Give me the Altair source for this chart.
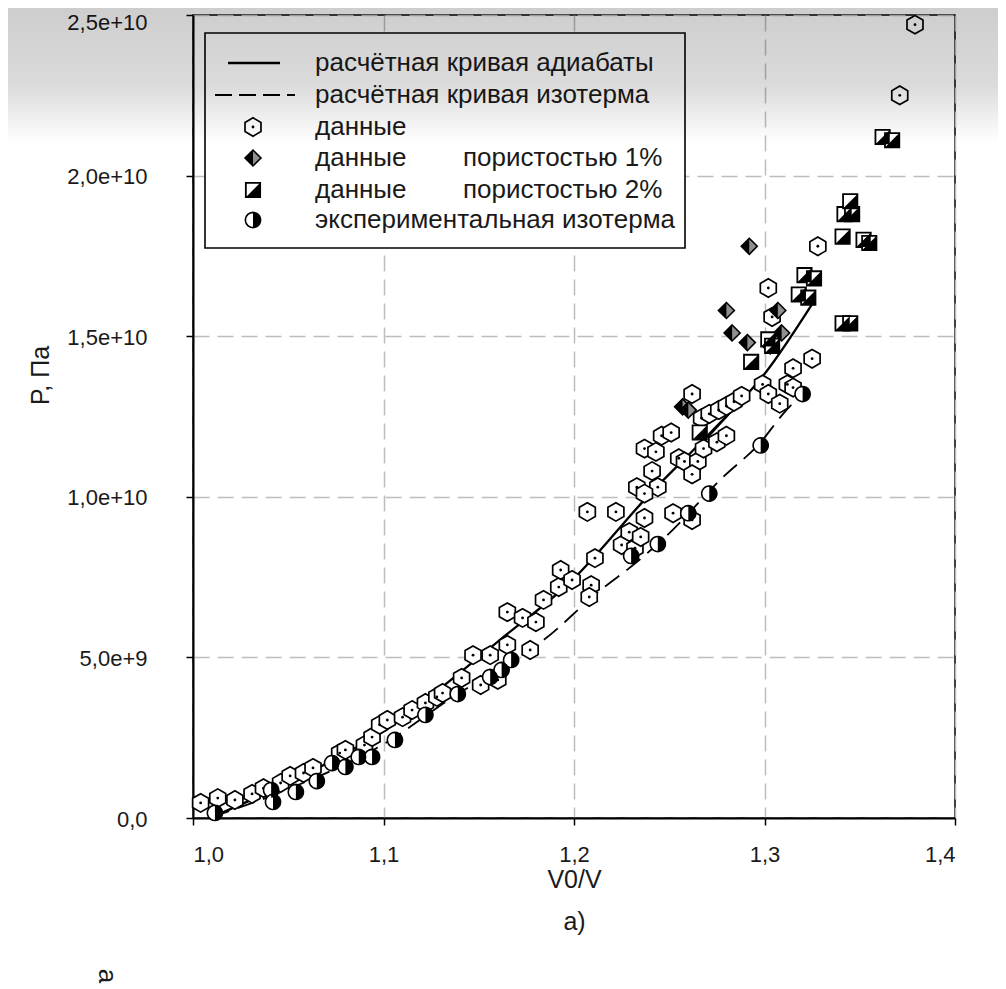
import math
import altair as alt
import pandas as pd

# ---------------- data (V0/V, P in units of 1e9 Pa) ----------------
hex_v = [1.004, 1.013, 1.022, 1.031, 1.037, 1.046, 1.051, 1.058, 1.063, 1.077,
         1.080, 1.090, 1.094, 1.098, 1.102, 1.110, 1.115, 1.122, 1.128, 1.131,
         1.141, 1.151, 1.160, 1.147, 1.156, 1.165, 1.165, 1.173, 1.180, 1.177,
         1.184, 1.192, 1.193, 1.199, 1.207, 1.222, 1.209, 1.208, 1.211, 1.225,
         1.232, 1.229, 1.235, 1.237, 1.233, 1.244, 1.237, 1.241, 1.237, 1.243,
         1.246, 1.251, 1.252, 1.262, 1.255, 1.258, 1.265, 1.262, 1.268, 1.275,
         1.280, 1.262, 1.267, 1.271, 1.276, 1.280, 1.284, 1.288, 1.299, 1.302,
         1.308, 1.312, 1.315, 1.315, 1.325, 1.302, 1.304, 1.328, 1.371, 1.379]
hex_p = [0.47, 0.62, 0.56, 0.75, 0.93, 1.09, 1.31, 1.40, 1.56, 2.02,
         2.12, 2.27, 2.52, 2.90, 3.05, 3.14, 3.36, 3.58, 3.77, 3.89,
         4.36, 4.14, 4.30, 5.07, 5.07, 5.39, 6.41, 6.23, 6.10, 5.23,
         6.79, 7.19, 7.72, 7.41, 9.53, 9.53, 7.25, 6.88, 8.09, 8.50,
         8.40, 8.90, 8.75, 9.34, 10.3, 10.3, 10.1, 10.8, 11.5, 11.4,
         11.9, 12.0, 9.49, 9.28, 11.2, 11.1, 11.1, 10.7, 11.5, 11.7,
         11.9, 13.2, 12.45, 12.58, 12.70, 12.83, 12.96, 13.14, 13.5, 13.2,
         12.9, 13.5, 13.4, 14.0, 14.3, 16.5, 15.6, 17.8, 22.5, 24.7]

por1_v = [1.292, 1.280, 1.283, 1.291, 1.307, 1.309, 1.303, 1.257, 1.260]
por1_p = [17.8, 15.8, 15.1, 14.8, 15.8, 15.1, 14.7, 12.8, 12.7]

por2_v = [1.266, 1.293, 1.302, 1.304, 1.318, 1.323, 1.321, 1.326, 1.341,
          1.345, 1.341, 1.352, 1.355, 1.342, 1.346, 1.345, 1.362, 1.367]
por2_p = [12.0, 14.2, 14.9, 14.7, 16.3, 16.2, 16.9, 16.8, 15.4,
          15.4, 18.1, 18.0, 17.9, 18.8, 18.8, 19.2, 21.2, 21.1]

iso_exp_v = [1.0115, 1.041, 1.042, 1.054, 1.065, 1.073, 1.080, 1.087, 1.094,
             1.106, 1.122, 1.139, 1.156, 1.162, 1.167, 1.230, 1.244, 1.260,
             1.271, 1.298, 1.320]
iso_exp_p = [0.16, 0.87, 0.50, 0.81, 1.15, 1.71, 1.59, 1.90, 1.90,
             2.43, 3.21, 3.86, 4.39, 4.61, 4.92, 8.16, 8.53, 9.49,
             10.1, 11.6, 13.2]

adiab_v = [1.010, 1.030, 1.050, 1.075, 1.100, 1.122, 1.161, 1.199, 1.240, 1.270, 1.301, 1.325]
adiab_p = [0.03, 0.55, 1.10, 1.85, 2.70, 3.67, 5.54, 7.40, 10.1, 11.9, 13.9, 16.0]
branch_v = [1.270, 1.287]
branch_p = [11.85, 12.95]

iso_v = [1.010, 1.050, 1.100, 1.140, 1.160, 1.184, 1.214, 1.229, 1.248, 1.278, 1.298, 1.310, 1.319]
iso_p = [0.03, 0.90, 2.30, 3.90, 4.60, 5.54, 7.10, 7.78, 8.75, 10.6, 11.7, 12.6, 13.15]

x_ticks = [1.0, 1.1, 1.2, 1.3, 1.4]
y_ticks = [0, 5e9, 1e10, 1.5e10, 2e10, 2.5e10]

legend_labels = ["расчётная кривая адиабаты", "расчётная кривая изотерма", "данные",
                 "данные", "данные", "экспериментальная изотерма"]
legend_extra = ["пористостью 1%", "пористостью 2%"]

# ---------------- frames ----------------
def frame(v, p, **extra):
    d = pd.DataFrame({"v": v, "P": [x * 1e9 for x in p]})
    for k, val in extra.items():
        d[k] = val
    return d

df_hex = frame(hex_v, hex_p)
df_p1 = frame(por1_v, por1_p)
df_p2 = frame(por2_v, por2_p)
df_ce = frame(iso_exp_v, iso_exp_p)
df_ad = pd.concat([frame(adiab_v, adiab_p, seg="main"), frame(branch_v, branch_p, seg="branch")])
df_iso = frame(iso_v, iso_p)
one = pd.DataFrame({"a": [0]})

FONT = "Liberation Sans"
TXT = "#1a1a1a"

X = alt.X("v:Q", scale=alt.Scale(domain=[1.0, 1.4], nice=False, zero=False),
          axis=alt.Axis(values=x_ticks,
                        labelExpr="replace(format(datum.value, '.1f'), '.', ',')",
                        title=["V0/V", "a)"], titleLineHeight=42, titlePadding=2,
                        labelPadding=19))
Y = alt.Y("P:Q", scale=alt.Scale(domain=[0, 2.5e10], nice=False, zero=False),
          axis=alt.Axis(values=y_ticks,
                        labelExpr="datum.value == 0 ? '0,0' : replace(format(datum.value, '.1e'), '.', ',')",
                        labelOffset={"condition": {"test": "datum.value >= 25000000000", "value": 7},
                                     "value": 1},
                        title="P, Па", titleX=-153, titleY=360, titleAngle=270,
                        titleAlign="center", titleBaseline="middle", labelPadding=39))

# ---------------- marker shapes ----------------
HEX = "M0,-1L0.866,-0.5L0.866,0.5L0,1L-0.866,0.5L-0.866,-0.5Z"
DIAMOND = "M0,-1L1,0L0,1L-1,0Z"
DIAMOND_L = "M0,-1L-1,0L0,1Z"
SQUARE = "M-1,-1L1,-1L1,1L-1,1Z"
SQUARE_BR = "M1,-1L1,1L-1,1Z"
def arc_path(a0, a1, step=15):
    pts = [(math.cos(math.radians(a)), math.sin(math.radians(a))) for a in range(a0, a1 + 1, step)]
    return "M" + "L".join(f"{x:.3f},{y:.3f}" for x, y in pts) + "Z"
CIRCLE = arc_path(0, 345)
CIRCLE_R = arc_path(-90, 90)

def hex_marks(base):
    return [base.mark_point(shape=HEX, filled=True, fill="white", stroke="black",
                            strokeWidth=1.7, size=340, opacity=1),
            base.mark_point(shape="circle", filled=True, fill="black", size=8, opacity=1)]

def diamond_marks(base):
    return [base.mark_point(shape=DIAMOND, filled=True, fill="#8f8f8f", stroke="black",
                            strokeWidth=1.6, size=255, opacity=1),
            base.mark_point(shape=DIAMOND_L, filled=True, fill="black", size=255, opacity=1)]

def square_marks(base):
    return [base.mark_point(shape=SQUARE, filled=True, fill="white", stroke="black",
                            strokeWidth=1.8, size=205, opacity=1),
            base.mark_point(shape=SQUARE_BR, filled=True, fill="black", size=205, opacity=1)]

def circle_marks(base):
    return [base.mark_point(shape=CIRCLE, filled=True, fill="white", stroke="black",
                            strokeWidth=1.6, size=230, opacity=1),
            base.mark_point(shape=CIRCLE_R, filled=True, fill="black", size=230, opacity=1)]

# ---------------- data layers ----------------
adiab = alt.Chart(df_ad).mark_line(color="black", strokeWidth=2.3, interpolate="monotone").encode(
    x=X, y=Y, detail="seg:N", order="v:Q")
iso = alt.Chart(df_iso).mark_line(color="black", strokeWidth=1.8, strokeDash=[18, 9],
                                  interpolate="monotone").encode(x=X, y=Y, order="v:Q")

layers = [adiab, iso]
layers += hex_marks(alt.Chart(df_hex).encode(x=X, y=Y))
layers += diamond_marks(alt.Chart(df_p1).encode(x=X, y=Y))
layers += square_marks(alt.Chart(df_p2).encode(x=X, y=Y))
layers += circle_marks(alt.Chart(df_ce).encode(x=X, y=Y))

# ---------------- legend (drawn inside plot) ----------------
lg = alt.Chart(one)
layers.append(lg.mark_rect(fill="white", stroke="black", strokeWidth=1.6).encode(
    x=alt.value(12), x2=alt.value(492), y=alt.value(18), y2=alt.value(233)))
row_y = [48, 80, 112, 143, 175, 205]
layers.append(lg.mark_rule(color="black", strokeWidth=2.4).encode(
    x=alt.value(35), x2=alt.value(87), y=alt.value(row_y[0])))
layers.append(lg.mark_rule(color="black", strokeWidth=1.8, strokeDash=[17, 7]).encode(
    x=alt.value(22), x2=alt.value(102), y=alt.value(row_y[1])))
layers += hex_marks(lg.encode(x=alt.value(60), y=alt.value(row_y[2])))
layers += diamond_marks(lg.encode(x=alt.value(60), y=alt.value(row_y[3])))
layers += square_marks(lg.encode(x=alt.value(60), y=alt.value(row_y[4])))
layers += circle_marks(lg.encode(x=alt.value(60), y=alt.value(row_y[5])))
for lab, yy in zip(legend_labels, row_y):
    layers.append(lg.mark_text(text=lab, font=FONT, fontSize=26, align="left",
                               baseline="middle", color=TXT).encode(
        x=alt.value(122), y=alt.value(yy)))
for lab, yy in zip(legend_extra, row_y[3:5]):
    layers.append(lg.mark_text(text=lab, font=FONT, fontSize=26, align="left",
                               baseline="middle", color=TXT).encode(
        x=alt.value(270), y=alt.value(yy)))

# stray rotated letter at the bottom-left edge of the scanned page
layers.append(lg.mark_text(text="a", font=FONT, fontSize=26, angle=90, align="center",
                           baseline="middle", color=TXT).encode(
    x=alt.value(-86), y=alt.value(961)))

# screenshot-like grey shading at the top
shade = alt.Gradient(gradient="linear",
                     stops=[alt.GradientStop(color="rgba(0,0,0,0.20)", offset=0),
                            alt.GradientStop(color="rgba(0,0,0,0.14)", offset=0.6),
                            alt.GradientStop(color="rgba(0,0,0,0.0)", offset=1)],
                     x1=0, x2=0, y1=0, y2=1)
layers.append(lg.mark_rect(fill=shade).encode(
    x=alt.value(-190), x2=alt.value(810), y=alt.value(-15), y2=alt.value(128)))

chart = alt.layer(*layers).properties(
    width=762, height=803,
    padding={"left": 185, "top": 7, "right": 43, "bottom": 171},
    autosize=alt.AutoSizeParams(type="none"),
).configure_view(stroke="black", strokeWidth=1.5).configure_axis(
    labelFont=FONT, labelFontSize=22, labelColor=TXT,
    titleFont=FONT, titleFontSize=25, titleColor=TXT, titleFontWeight="normal",
    domainColor="black", domainWidth=2, tickColor="black", tickWidth=1.5, tickSize=7,
    grid=True, gridColor="#bdbdbd", gridWidth=1.5, gridDash=[16, 8],
)

chart.save("out.html", embed_options={"renderer": "svg", "actions": False})
